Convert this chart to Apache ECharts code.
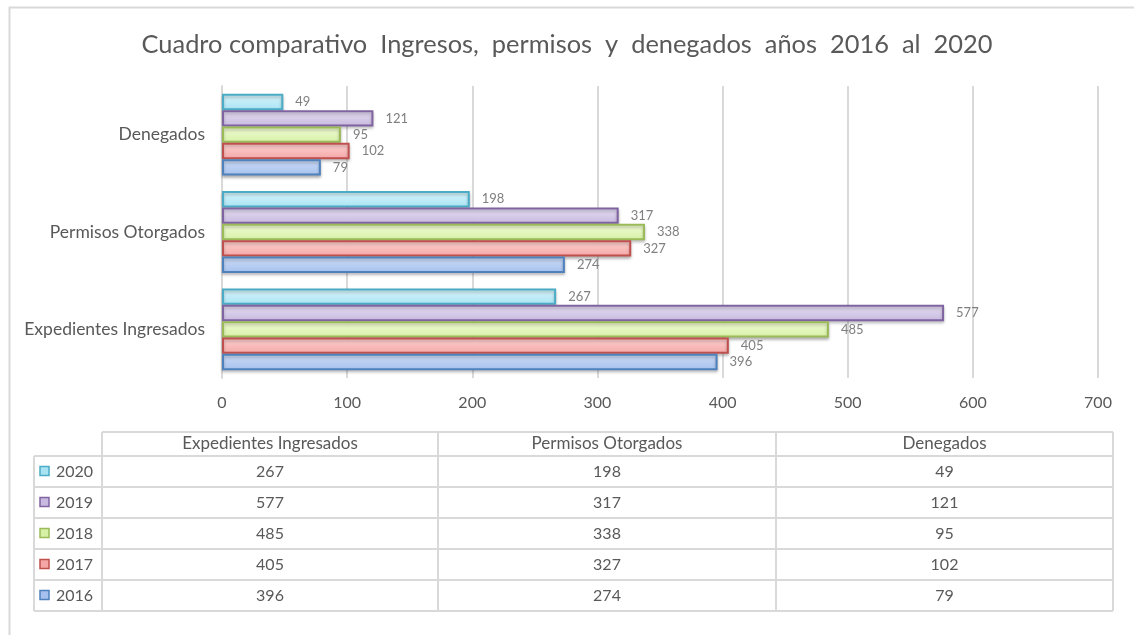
<!DOCTYPE html>
<html>
<head>
<meta charset="utf-8">
<script src="https://cdn.jsdelivr.net/npm/echarts@6/dist/echarts.min.js"></script>
<style>
  html, body { margin: 0; padding: 0; background: #fff; }
  #chart { width: 1134px; height: 635px; }
</style>
</head>
<body>
<div id="chart"></div>
<script>
const categories = ['Expedientes Ingresados', 'Permisos Otorgados', 'Denegados'];
const years = ['2016', '2017', '2018', '2019', '2020'];
const values2016 = [396, 274, 79];
const values2017 = [405, 327, 102];
const values2018 = [485, 338, 95];
const values2019 = [577, 317, 121];
const values2020 = [267, 198, 49];
const xMax = 700;
const xStep = 100;

const seriesValues = [values2016, values2017, values2018, values2019, values2020];
// borde, relleno claro, relleno oscuro
const palette = [
  ['#4f81bd', '#cddcf6', '#a6c1ee'],
  ['#c0504d', '#fdd3d2', '#f4a7a6'],
  ['#9bbb59', '#f1fcd6', '#d6f0a6'],
  ['#8064a2', '#e6def2', '#c7b9df'],
  ['#4bacc6', '#d8f5fc', '#a9e3f3']
];

const font = 'Lato, "Open Sans", sans-serif';
const grey = '#595959';
const lineGrey = '#d9d9d9';

const chart = echarts.init(document.getElementById('chart'));

// 2020 primero para que quede arriba en cada grupo
const order = [4, 3, 2, 1, 0];
const series = order.map(i => ({
  name: years[i],
  type: 'bar',
  data: seriesValues[i],
  barGap: '0%',
  barCategoryGap: '16%',
  itemStyle: {
    color: new echarts.graphic.LinearGradient(0, 0, 0, 1, [
      { offset: 0, color: palette[i][1] },
      { offset: 1, color: palette[i][2] }
    ]),
    borderColor: palette[i][0],
    borderWidth: 2,
    shadowColor: 'rgba(0,0,0,0.25)',
    shadowBlur: 3,
    shadowOffsetY: 2
  },
  label: {
    show: true,
    position: 'right',
    distance: 12,
    color: '#7f7f7f',
    fontSize: 13,
    fontFamily: font
  }
}));

// tabla de datos debajo del gráfico
const colX = [102, 438, 776, 1113];
const legendX = 34;
const headTop = 432;
const headH = 24;
const rowH = 31;
const rowsTop = headTop + headH;
const tableBottom = rowsTop + rowH * years.length;

const graphic = [];
graphic.push({
  type: 'rect', left: 7, top: 5, z: -1,
  shape: { width: 1134, height: 640 },
  style: { fill: 'none', stroke: lineGrey, lineWidth: 2 }
});
// líneas horizontales
graphic.push({ type: 'line', shape: { x1: colX[0], y1: headTop, x2: colX[3], y2: headTop }, style: { stroke: lineGrey, lineWidth: 2 } });
for (let r = 0; r <= years.length; r++) {
  const y = rowsTop + r * rowH;
  graphic.push({ type: 'line', shape: { x1: legendX, y1: y, x2: colX[3], y2: y }, style: { stroke: lineGrey, lineWidth: 2 } });
}
// líneas verticales
graphic.push({ type: 'line', shape: { x1: legendX, y1: rowsTop, x2: legendX, y2: tableBottom }, style: { stroke: lineGrey, lineWidth: 2 } });
colX.forEach(x => {
  graphic.push({ type: 'line', shape: { x1: x, y1: headTop, x2: x, y2: tableBottom }, style: { stroke: lineGrey, lineWidth: 2 } });
});
// encabezados
categories.forEach((c, j) => {
  graphic.push({
    type: 'text',
    x: (colX[j] + colX[j + 1]) / 2, y: headTop + headH / 2,
    style: { text: c, fill: grey, font: '17px ' + font, align: 'center', verticalAlign: 'middle' }
  });
});
// filas: 2020 arriba, 2016 abajo
order.forEach((i, r) => {
  const cy = rowsTop + r * rowH + rowH / 2;
  graphic.push({
    type: 'rect', shape: { x: 40, y: cy - 5, width: 9, height: 9 },
    style: { fill: palette[i][2], stroke: palette[i][0], lineWidth: 1.5 }
  });
  graphic.push({
    type: 'text', x: 56, y: cy,
    style: { text: years[i], fill: grey, font: '16px ' + font, verticalAlign: 'middle' }
  });
  seriesValues[i].forEach((v, j) => {
    graphic.push({
      type: 'text',
      x: (colX[j] + colX[j + 1]) / 2, y: cy,
      style: { text: String(v), fill: grey, font: '16px ' + font, align: 'center', verticalAlign: 'middle' }
    });
  });
});

const option = {
  animation: false,
  backgroundColor: '#fff',
  title: {
    text: 'Cuadro comparativo  Ingresos,  permisos  y  denegados  años  2016  al  2020',
    left: 'center',
    top: 27,
    textStyle: { color: grey, fontSize: 25.4, fontWeight: 'normal', fontFamily: font }
  },
  grid: { left: 222, right: 36, top: 86, bottom: 257, containLabel: false },
  xAxis: {
    type: 'value',
    min: 0,
    max: xMax,
    interval: xStep,
    axisLine: { show: false },
    axisTick: { show: false },
    splitLine: { show: true, lineStyle: { color: lineGrey, width: 2 } },
    axisLabel: { color: grey, fontSize: 16, fontFamily: font, margin: 17 }
  },
  yAxis: {
    type: 'category',
    data: categories,
    axisLine: { show: true, lineStyle: { color: lineGrey, width: 2 } },
    axisTick: { show: false },
    axisLabel: { color: grey, fontSize: 17.5, fontFamily: font, margin: 17 }
  },
  series: series,
  graphic: graphic
};

chart.setOption(option);
</script>
</body>
</html>
